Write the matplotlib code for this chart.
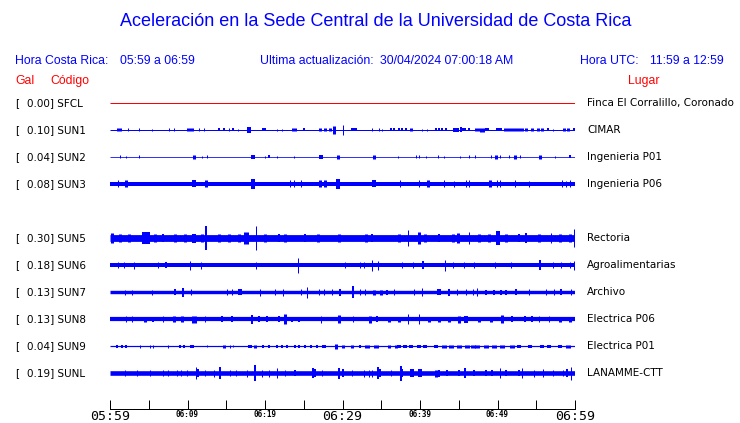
import numpy as np
import matplotlib
matplotlib.use("Agg")
import matplotlib.pyplot as plt

# station data
CODES = ["SFCL", "SUN1", "SUN2", "SUN3", "SUN5", "SUN6", "SUN7", "SUN8", "SUN9", "SUNL"]
GAL = [0.00, 0.10, 0.04, 0.08, 0.30, 0.18, 0.13, 0.13, 0.04, 0.19]
PLACES = ["Finca El Corralillo, Coronado", "CIMAR", "Ingenieria P01", "Ingenieria P06",
          "Rectoria", "Agroalimentarias", "Archivo", "Electrica P06", "Electrica P01",
          "LANAMME-CTT"]

# background noise half-amplitude of each trace (screen px)
BASE_HALF = [0.5, 0.5, 0.4, 2.0, 3.4, 2.0, 1.7, 2.1, 0.6, 2.3]

# bursts: (minute after 05:59, half amplitude px, duration px)
SFCL_EV = []
SUN1_EV = [(1.16, 1.5, 5), (2.37, 1.5, 1), (3.79, 1.5, 1), (5.47, 1, 1), (7.63, 1.5, 1),
           (8.28, 1.5, 1), (10.34, 1.5, 7), (11.42, 1.5, 1), (12.07, 1.5, 1), (14.0, 1.5, 2),
           (14.7, 1.5, 2), (15.3, 1.5, 1), (15.86, 1.5, 2), (16.5, 1, 1), (17.97, 3, 4),
           (19.9, 1.5, 4), (21.55, 1, 1), (22.2, 1, 1), (23.8, 1.5, 5), (25.0, 1.5, 2),
           (27.15, 1.5, 3), (27.8, 1.5, 3), (28.45, 1.5, 3), (28.9, 4, 3), (30.0, 5, 1),
           (31.5, 1.5, 6), (33.8, 1.5, 1), (34.7, 1.5, 1), (35.1, 1, 1), (36.2, 1.5, 2),
           (36.7, 1.5, 2), (37.3, 1.5, 2), (37.7, 1.5, 2), (38.2, 1.5, 2), (38.9, 1.5, 3),
           (40.3, 1, 1), (40.9, 1, 1), (42.0, 1.5, 2), (42.45, 1.5, 2), (42.9, 1.5, 2),
           (43.3, 1.5, 2), (44.6, 2, 6), (45.25, 2.5, 2), (45.7, 1.5, 4), (46.3, 1.5, 2),
           (47.4, 1.5, 5), (48.05, 2, 5), (48.7, 1.5, 4), (50.2, 1.5, 6), (51.1, 1.5, 5),
           (51.7, 1.5, 5), (52.4, 1.5, 5), (53.0, 1.5, 5), (53.7, 1.5, 3), (54.5, 1.5, 3),
           (55.2, 1.5, 3), (55.8, 1.5, 3), (56.5, 1.5, 2), (57.1, 1, 1), (58.6, 1.5, 3),
           (59.1, 1.5, 3), (59.9, 1.5, 2)]
SUN2_EV = [(1.34, 1.5, 1), (2.07, 1, 1), (3.8, 1.5, 1), (10.9, 2, 3), (11.9, 1, 1),
           (12.5, 1.5, 1), (18.49, 2, 4), (19.96, 1, 1), (20.5, 1.5, 2), (21.55, 1, 1),
           (23.8, 1, 1), (27.2, 2, 4), (29.4, 2, 3), (34.1, 2, 3), (37.1, 1, 1),
           (39.5, 1.5, 1), (39.9, 1.5, 1), (40.8, 1, 1), (42.3, 1.5, 1), (43.1, 1, 1),
           (45.2, 1, 1), (46.3, 1.5, 1), (47.1, 1.5, 1), (49.1, 1.5, 1), (49.8, 2, 3),
           (50.3, 1.5, 1), (51.5, 1.5, 1), (52.2, 2, 3), (52.9, 1.5, 1), (55.5, 2, 3),
           (57.4, 1, 1), (59.3, 1.5, 2)]
SUN3_EV = [(1.08, 3.5, 1), (2.07, 3.5, 3), (10.9, 3.5, 4), (12.4, 3.5, 3), (18.4, 5, 4),
           (23.2, 3.5, 1), (23.8, 3.5, 1), (24.6, 3.5, 1), (27.15, 3.5, 3), (27.7, 3.5, 3),
           (29.4, 5, 4), (34.1, 3.5, 4), (37.4, 3.5, 1), (39.9, 3.5, 1), (41.0, 3.5, 3),
           (43.1, 3.5, 1), (44.4, 3, 1), (45.9, 3.5, 1), (46.3, 3.5, 1), (49.0, 3.5, 3),
           (49.9, 3.5, 1), (50.3, 3.5, 1), (52.3, 3.5, 1), (54.1, 3, 1), (58.3, 3.5, 1),
           (58.8, 3, 1), (59.3, 3.5, 1)]
SUN5_EV = [(0.2, 5, 3), (1.3, 4, 3), (2.4, 4, 3), (4.7, 6, 8), (5.8, 4, 3), (6.9, 4, 2),
           (8.4, 4, 3), (9.7, 4, 3), (10.8, 4.5, 4), (11.9, 4, 3), (12.4, 12, 2),
           (14.0, 4, 3), (15.3, 4, 3), (16.6, 4, 3), (17.5, 6, 5), (18.8, 12, 1),
           (20.0, 4, 3), (21.8, 4, 2), (22.6, 4, 3), (25.2, 4, 2), (26.9, 4, 3),
           (29.5, 4, 3), (33.0, 4, 3), (33.8, 4, 2), (37.3, 4, 3), (38.4, 8, 1),
           (39.9, 6, 3), (40.7, 4, 3), (42.5, 4, 2), (44.2, 4, 3), (44.9, 5, 3),
           (46.3, 6, 1), (47.6, 4, 3), (48.9, 4, 3), (50.0, 7, 4), (51.1, 4, 3),
           (52.8, 4, 2), (53.7, 5, 2), (55.4, 4, 3), (56.9, 5, 1), (58.0, 4, 3),
           (59.3, 4, 3), (59.9, 9, 1)]
SUN6_EV = [(1.0, 3, 1), (1.8, 3, 1), (3.1, 3.5, 1), (6.2, 3, 1), (7.2, 3, 2), (10.3, 4.5, 1),
           (11.8, 3.5, 1), (18.9, 3.5, 1), (24.2, 7.5, 1), (30.3, 3, 1), (32.3, 3, 1),
           (32.8, 3, 1), (33.8, 5.5, 1), (34.6, 4.5, 1), (37.7, 3, 1), (39.1, 3, 1),
           (40.4, 4, 2), (43.2, 5.5, 1), (44.3, 3, 1), (45.7, 3, 1), (47.0, 3, 1),
           (49.7, 3, 1), (51.7, 3, 1), (55.5, 5, 2), (57.1, 3, 1), (58.2, 3, 1),
           (59.3, 3, 1), (59.9, 4.5, 1)]
SUN7_EV = [(1.9, 2.5, 1), (2.8, 2.5, 1), (5.4, 2.5, 1), (8.4, 3, 2), (9.4, 4.5, 2),
           (10.5, 3, 1), (15.1, 3, 1), (15.7, 3, 1), (16.8, 3, 4), (19.4, 3.5, 1),
           (21.3, 3, 1), (22.3, 3.5, 1), (24.6, 3, 1), (25.4, 5.5, 1), (27.0, 3, 1),
           (27.6, 3, 1), (28.7, 3, 1), (29.7, 3.5, 2), (31.3, 6, 2), (32.3, 3, 1),
           (32.9, 3, 1), (34.1, 2.5, 3), (35.0, 2.5, 3), (35.8, 2.5, 2), (36.6, 3, 1),
           (39.2, 3, 1), (40.3, 4, 1), (42.4, 3, 4), (43.7, 3.5, 2), (44.8, 3, 1),
           (45.9, 3, 1), (46.8, 3, 1), (47.4, 4, 1), (48.5, 2.5, 2), (49.5, 2.5, 2),
           (50.4, 2.5, 2), (51.1, 2.5, 2), (52.4, 3, 2), (54.1, 3, 1), (56.2, 3, 1),
           (57.3, 3, 1), (58.2, 3, 2), (59.5, 3, 1)]
SUN8_EV = [(2.1, 3, 1), (2.8, 3, 1), (4.5, 2.5, 3), (5.6, 2.5, 2), (6.9, 3, 1), (8.2, 3, 3),
           (9.3, 3, 3), (10.8, 3.5, 5), (12.3, 3, 1), (14.4, 3, 2), (15.7, 3, 2),
           (18.3, 4.5, 2), (19.2, 3, 2), (20.3, 3, 2), (21.8, 3, 2), (22.6, 5, 3),
           (23.5, 2.5, 2), (24.4, 2.5, 2), (27.2, 3.5, 1), (29.5, 4, 3), (31.3, 3, 1),
           (33.6, 3.5, 3), (34.5, 3, 2), (36.0, 2.5, 3), (37.3, 2.5, 3), (38.4, 5, 1),
           (39.9, 5, 1), (41.2, 2.5, 3), (42.5, 2.5, 3), (43.7, 2.5, 3), (45.0, 3.5, 3),
           (45.9, 3.5, 4), (47.6, 2.5, 3), (49.1, 2.5, 3), (50.6, 4, 3), (51.9, 3, 2),
           (53.5, 3, 2), (54.5, 3, 2), (55.4, 3, 1), (56.7, 3, 1), (58.0, 2.5, 3),
           (59.3, 2.5, 3)]
SUN9_EV = [(0.9, 1.5, 2), (1.5, 1.5, 2), (2.1, 1.5, 2), (3.9, 1.5, 1), (5.2, 1.5, 1),
           (5.6, 1.5, 1), (7.5, 1.5, 1), (9.05, 1.5, 2), (9.5, 1.5, 2), (10.6, 1.5, 4),
           (12.5, 1, 1), (14.7, 1.5, 3), (15.5, 1.5, 1), (15.9, 1, 1), (18.1, 1.5, 4),
           (18.7, 1.5, 3), (19.8, 1.5, 2), (20.5, 1.5, 2), (21.6, 1.5, 2), (22.2, 1.5, 2),
           (22.8, 1.5, 2), (23.9, 1.5, 2), (24.4, 1.5, 2), (25.2, 1.5, 2), (25.9, 1.5, 2),
           (26.7, 1.5, 2), (27.6, 1.5, 4), (29.1, 2.5, 3), (30.0, 1.5, 3), (31.2, 1.5, 3),
           (32.3, 1.5, 2), (33.2, 1.5, 5), (34.3, 1.5, 5), (36.0, 1.5, 3), (36.9, 1.5, 3),
           (37.3, 1.5, 4), (38.1, 1.5, 4), (38.8, 1.5, 4), (39.9, 1.5, 4), (40.7, 1.5, 4),
           (42.0, 1.5, 4), (43.1, 1.5, 5), (44.0, 1.5, 5), (45.0, 1.5, 5), (46.1, 1.5, 5),
           (46.8, 1.5, 5), (47.4, 1.5, 5), (48.5, 1.5, 5), (49.5, 1.5, 5), (50.6, 1.5, 5),
           (51.9, 1.5, 5), (52.8, 1.5, 4), (54.2, 1.5, 4), (55.8, 1.5, 4), (56.7, 1.5, 4),
           (58.0, 1.5, 4), (59.1, 1.5, 5)]
SUNL_EV = [(1.9, 3, 1), (3.5, 3, 1), (5.2, 3, 1), (6.9, 3, 1), (7.5, 3, 1), (8.6, 3, 1),
           (9.2, 3, 1), (9.9, 3, 1), (11.1, 6, 1), (11.4, 4, 2), (12.3, 3, 1),
           (13.4, 3.5, 1), (14.2, 6, 2), (15.5, 3, 1), (16.2, 3, 1), (17.7, 3.5, 1),
           (18.7, 8, 2), (19.6, 3.5, 1), (20.5, 3.5, 1), (21.5, 5, 1), (22.6, 3, 1),
           (23.9, 3, 2), (26.2, 5, 2), (26.5, 4, 2), (27.4, 3, 1), (29.5, 5.5, 2),
           (30.0, 4, 2), (31.2, 3, 1), (32.8, 3.5, 1), (33.4, 3.5, 1), (33.8, 3.5, 1),
           (34.6, 6, 2), (34.9, 4, 2), (36.2, 3, 1), (37.5, 7.5, 2), (37.7, 4, 2),
           (39.0, 4, 4), (40.0, 4, 4), (42.0, 3.5, 3), (42.5, 3.5, 2), (43.5, 3, 2),
           (45.0, 3, 2), (45.8, 5, 2), (47.0, 3, 2), (48.5, 3, 2), (49.3, 3, 2),
           (50.3, 5, 1), (51.1, 3, 2), (52.8, 3, 2), (53.2, 5, 1), (54.7, 3.5, 1),
           (55.9, 4, 1), (57.1, 3, 1), (58.4, 3, 1), (59.0, 4, 2), (59.5, 6.5, 1)]
EVENTS = [SFCL_EV, SUN1_EV, SUN2_EV, SUN3_EV, SUN5_EV, SUN6_EV, SUN7_EV, SUN8_EV, SUN9_EV, SUNL_EV]

WINDOW_MIN = 60
TICK_LABELS = ["05:59", "", "06:09", "", "06:19", "", "06:29", "", "06:39", "", "06:49", "", "06:59"]
BIG_LABELS = ["05:59", "06:29", "06:59"]

BLUE = "#0000ff"
RED = "#ff0000"
W, H = 740, 423
PT = 0.72  # one pixel in points at dpi 100


def pos(x, y):
    # pixel position (from top-left) to figure fraction
    return x / W, 1 - y / H


fig = plt.figure(figsize=(W / 100, H / 100), dpi=100)

# header texts
fig.text(*pos(376, 22), "Aceleración en la Sede Central de la Universidad de Costa Rica",
         ha="center", va="center", color=BLUE, fontsize=13, family="Liberation Sans")
hdr = dict(va="center", color=BLUE, fontsize=8.8, family="Liberation Sans")
fig.text(*pos(15, 61), "Hora Costa Rica:", **hdr)
fig.text(*pos(120, 61), "05:59 a 06:59", **hdr)
fig.text(*pos(260, 61), "Ultima actualización:", **hdr)
fig.text(*pos(380, 61), "30/04/2024 07:00:18 AM", **hdr)
fig.text(*pos(580, 61), "Hora UTC:", **hdr)
fig.text(*pos(650, 61), "11:59 a 12:59", **hdr)
red = dict(va="center", color=RED, fontsize=8.8, family="Liberation Sans")
fig.text(*pos(15, 81), "Gal", **red)
fig.text(*pos(50, 81), "Código", **red)
fig.text(*pos(628, 81), "Lugar", **red)

# trace area: x in minutes, y in screen pixels from the top
ax = fig.add_axes([110 / W, (H - 409) / H, 465 / W, (409 - 88) / H])
ax.set_xlim(0, WINDOW_MIN)
ax.set_ylim(409, 88)
for s in ["top", "left", "right"]:
    ax.spines[s].set_visible(False)
ax.spines["bottom"].set_linewidth(PT)
ax.set_yticks([])

lab = dict(va="center", color="black", fontsize=7.5, family="DejaVu Sans")
for i, code in enumerate(CODES):
    slot = i if i < 4 else i + 1  # SUN4 is not reporting
    y = 103 + 27 * slot
    color = RED if i == 0 else BLUE
    ax.hlines(y, 0, WINDOW_MIN, color=color, lw=2 * BASE_HALF[i] * PT, capstyle="butt")
    if EVENTS[i]:
        t, a, w = np.array(EVENTS[i]).T
        ax.vlines(t, y - a, y + a, color=color, lw=w * PT)
    fig.text(*pos(15, y), "[", **lab)
    fig.text(*pos(27, y), f"{GAL[i]:.2f}] {code}", **lab)
    fig.text(*pos(587, y), PLACES[i], **lab)

ax.set_xticks(np.arange(0, WINDOW_MIN + 1, 5))
ax.set_xticklabels(TICK_LABELS, family="DejaVu Sans Mono")
ax.tick_params(axis="x", direction="in", length=6.5, width=PT, pad=0.5)
for t in ax.get_xticklabels():
    if t.get_text() in BIG_LABELS:
        t.set_fontsize(9.5)
    else:
        t.set_fontsize(5.5)
        t.set_fontweight("bold")

fig.savefig("out.png", dpi=100)
